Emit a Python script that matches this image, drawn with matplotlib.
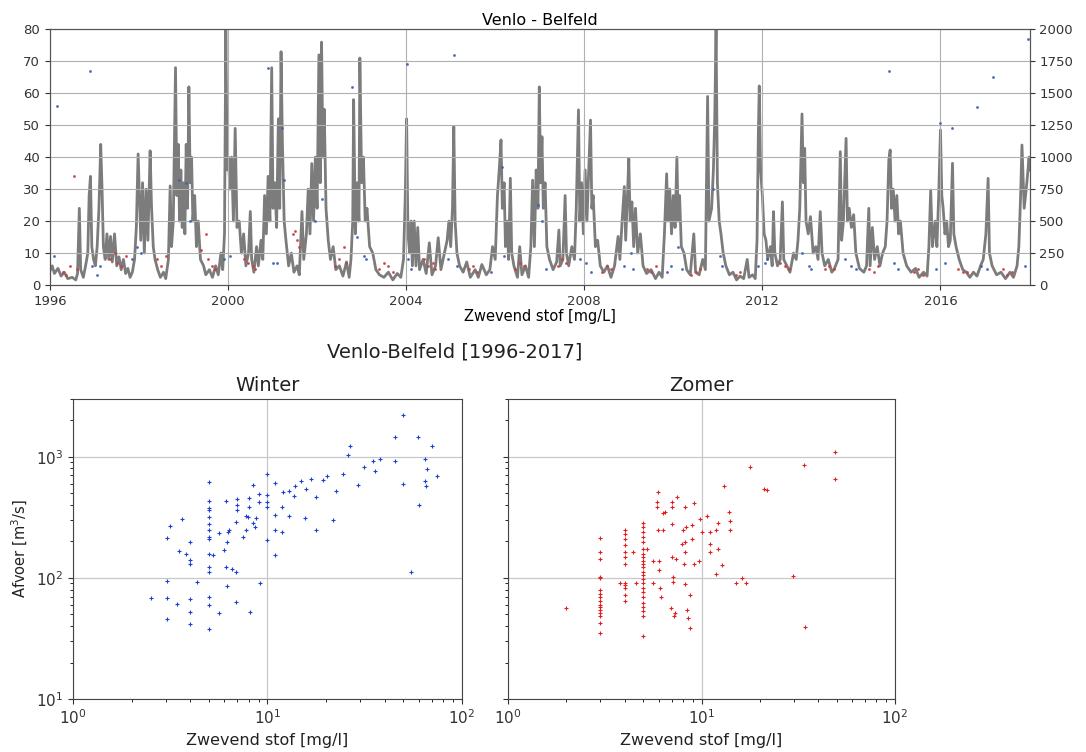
import numpy as np
import matplotlib
matplotlib.use("Agg")
import matplotlib.pyplot as plt

# ---------------- data: top panel (Venlo - Belfeld time series) ----------------
# discharge [m3/s] read at peaks/troughs (decimal years)
q_years = [
1996.00,1996.05,1996.10,1996.18,1996.25,1996.32,1996.40,1996.50,1996.58,1996.62,1996.66,1996.69,1996.75,1996.80,1996.85,1996.88,
1996.91,1996.94,1996.98,1997.02,1997.06,1997.10,1997.14,1997.17,1997.20,1997.24,1997.28,1997.32,1997.36,1997.40,1997.45,1997.50,
1997.55,1997.60,1997.65,1997.70,1997.75,1997.80,1997.85,1997.90,1997.94,1997.98,1998.01,1998.04,1998.08,1998.12,1998.16,1998.20,
1998.25,1998.28,1998.32,1998.36,1998.42,1998.48,1998.55,1998.60,1998.66,1998.70,1998.73,1998.77,1998.80,1998.82,1998.85,1998.88,
1998.91,1998.94,1998.97,1999.00,1999.03,1999.06,1999.09,1999.12,1999.15,1999.18,1999.21,1999.25,1999.29,1999.33,1999.38,1999.45,
1999.50,1999.58,1999.65,1999.72,1999.78,1999.84,1999.88,1999.92,1999.95,1999.98,2000.01,2000.04,2000.08,2000.12,2000.16,2000.20,
2000.25,2000.30,2000.35,2000.40,2000.46,2000.50,2000.53,2000.58,2000.64,2000.68,2000.74,2000.78,2000.82,2000.86,2000.90,2000.94,
2000.98,2001.01,2001.05,2001.09,2001.13,2001.16,2001.19,2001.22,2001.26,2001.30,2001.36,2001.42,2001.48,2001.55,2001.60,2001.66,
2001.70,2001.76,2001.80,2001.84,2001.88,2001.92,2001.96,2002.00,2002.04,2002.07,2002.10,2002.13,2002.16,2002.20,2002.25,2002.30,
2002.36,2002.42,2002.50,2002.58,2002.66,2002.72,2002.76,2002.80,2002.82,2002.86,2002.90,2002.94,2002.96,2003.00,2003.04,2003.08,
2003.12,2003.18,2003.25,2003.32,2003.40,2003.50,2003.60,2003.70,2003.80,2003.88,2003.94,2003.98,2004.01,2004.04,2004.08,2004.11,
2004.14,2004.18,2004.22,2004.26,2004.30,2004.38,2004.45,2004.52,2004.58,2004.66,2004.72,2004.78,2004.86,2004.92,2004.96,2005.00,
2005.04,2005.07,2005.10,2005.14,2005.20,2005.28,2005.36,2005.44,2005.55,2005.62,2005.70,2005.80,2005.88,2005.94,2006.00,2006.05,
2006.09,2006.13,2006.16,2006.20,2006.23,2006.27,2006.30,2006.34,2006.37,2006.42,2006.50,2006.55,2006.60,2006.68,2006.75,2006.80,
2006.84,2006.88,2006.92,2006.96,2006.99,2007.02,2007.05,2007.08,2007.12,2007.16,2007.22,2007.30,2007.38,2007.43,2007.46,2007.52,
2007.57,2007.60,2007.65,2007.72,2007.78,2007.82,2007.87,2007.90,2007.94,2007.98,2008.02,2008.06,2008.10,2008.14,2008.17,2008.20,
2008.25,2008.30,2008.36,2008.44,2008.52,2008.60,2008.68,2008.76,2008.80,2008.85,2008.90,2008.93,2008.97,2009.00,2009.03,2009.07,
2009.11,2009.15,2009.20,2009.26,2009.32,2009.40,2009.50,2009.60,2009.68,2009.75,2009.80,2009.85,2009.88,2009.92,2009.96,2010.00,
2010.04,2010.08,2010.11,2010.14,2010.18,2010.24,2010.30,2010.38,2010.46,2010.50,2010.58,2010.66,2010.72,2010.77,2010.80,2010.86,
2010.90,2010.93,2010.96,2010.99,2011.03,2011.07,2011.12,2011.18,2011.26,2011.34,2011.42,2011.50,2011.58,2011.66,2011.70,2011.78,
2011.84,2011.88,2011.91,2011.93,2011.96,2012.00,2012.04,2012.08,2012.12,2012.18,2012.22,2012.25,2012.28,2012.34,2012.40,2012.45,
2012.48,2012.55,2012.62,2012.70,2012.76,2012.80,2012.84,2012.89,2012.92,2012.95,2012.98,2013.03,2013.08,2013.14,2013.20,2013.25,
2013.30,2013.34,2013.40,2013.48,2013.56,2013.62,2013.70,2013.75,2013.78,2013.82,2013.88,2013.91,2013.95,2014.00,2014.05,2014.10,
2014.18,2014.28,2014.34,2014.39,2014.42,2014.47,2014.52,2014.58,2014.64,2014.70,2014.76,2014.80,2014.84,2014.87,2014.90,2014.94,
2014.98,2015.02,2015.06,2015.10,2015.16,2015.24,2015.34,2015.44,2015.52,2015.62,2015.70,2015.74,2015.78,2015.82,2015.88,2015.92,
2015.96,2016.00,2016.03,2016.06,2016.10,2016.14,2016.18,2016.22,2016.27,2016.30,2016.35,2016.42,2016.50,2016.58,2016.66,2016.74,
2016.82,2016.90,2016.96,2017.02,2017.07,2017.10,2017.16,2017.26,2017.36,2017.46,2017.56,2017.64,2017.72,2017.76,2017.80,2017.83,
2017.88,2017.94,2017.99,2018.00]
q_values = [
110,150,90,130,70,100,50,60,40,90,600,120,60,150,250,700,
850,300,200,150,300,600,1100,750,300,200,400,200,380,180,400,150,
220,120,200,90,130,60,100,200,450,1025,700,350,800,250,750,350,
1050,625,300,200,120,60,100,50,200,775,300,500,1200,1700,700,1100,
500,900,450,800,400,1100,600,1550,800,1000,500,700,300,500,200,150,
80,120,60,150,80,250,120,400,2000,900,1000,750,1000,500,1225,450,
500,250,400,150,250,575,200,100,300,150,350,200,700,400,850,500,
1700,600,800,450,1300,600,1825,1125,500,350,150,250,100,150,80,575,
200,400,750,400,950,500,1000,600,1800,800,1900,1000,1375,600,350,200,
300,120,150,70,180,60,200,500,1450,400,800,500,1775,800,1000,500,
600,300,250,120,80,60,100,40,90,60,200,700,1300,400,250,500,
150,500,150,450,120,200,90,330,80,150,370,120,250,350,500,300,
600,1240,500,250,150,100,180,60,120,60,160,80,120,300,200,700,
900,1135,600,800,300,500,200,835,250,150,60,300,80,150,60,300,
820,300,900,600,1550,800,1160,600,800,300,200,120,180,430,150,200,
700,250,150,300,200,600,1370,500,800,400,900,500,900,1290,600,700,
300,350,150,100,150,60,150,380,200,500,770,350,700,990,500,650,
300,600,250,400,150,90,120,50,100,60,400,870,500,750,400,700,
450,1000,500,700,300,250,120,80,400,100,80,200,120,1475,500,600,
900,1300,2000,800,500,400,250,150,80,100,40,70,50,200,60,80,
50,350,1186,1557,900,700,400,350,200,300,150,574,250,150,200,650,
200,150,100,250,200,350,600,1338,800,1069,500,400,535,250,300,200,
574,250,150,200,100,130,200,1043,350,500,1147,500,600,450,550,250,
130,100,150,600,150,450,200,300,150,250,300,500,978,1056,600,750,
500,700,400,500,250,150,100,130,60,100,70,300,743,300,500,300,
700,1213,700,600,400,500,300,350,952,400,300,200,120,100,60,100,
70,150,200,400,834,250,150,80,100,50,100,60,150,300,700,1095,
600,800,1000,900]

# suspended solids [mg/L] measurements: winter half-year (blue) and summer half-year (red)
ss_winter_years = [1996.08,1996.16,1996.90,1996.95,1997.05,1997.12,1997.85,1997.95,1998.05,1998.90,1999.05,1999.15,1999.90,
                   2000.05,2000.90,2001.00,2001.10,2001.21,2001.25,2001.95,2002.10,2002.78,2002.90,2003.05,2003.10,2004.01,
                   2004.05,2004.10,2004.95,2005.07,2005.15,2005.90,2006.15,2006.20,2006.95,2007.05,2007.15,2007.90,2008.05,
                   2008.15,2008.90,2009.05,2009.10,2009.85,2009.95,2010.10,2010.20,2010.90,2011.05,2011.10,2011.90,2012.05,
                   2012.10,2012.90,2013.05,2013.10,2013.85,2014.00,2014.10,2014.84,2014.95,2015.05,2015.90,2016.00,2016.10,
                   2016.27,2016.82,2016.90,2017.05,2017.18,2017.90,2017.96]
ss_winter_vals = [9,56,67,6,3,6,8,12,10,33,32,20,8,
                  9,68,7,7,49,33,20,27,62,15,9,8,69,
                  8,5,8,72,6,4,37,9,25,20,5,8,7,
                  4,6,10,5,4,6,12,5,30,9,6,6,7,
                  8,10,6,5,8,6,5,67,7,5,5,50.6,7,
                  49,55.6,6,5,65,6,77]
ss_summer_years = [1996.30,1996.35,1996.45,1996.54,1996.60,1997.35,1997.45,1997.50,1997.60,1997.70,1998.40,1998.50,1998.60,
                   1999.40,1999.50,1999.55,1999.65,1999.70,2000.35,2000.45,2000.55,2000.60,2001.45,2001.50,2001.55,2001.60,
                   2002.40,2002.50,2002.60,2002.65,2003.40,2003.50,2003.60,2003.70,2004.40,2004.50,2004.60,2004.65,2005.40,
                   2005.50,2005.60,2006.45,2006.55,2006.65,2007.40,2007.50,2007.60,2008.40,2008.50,2008.60,2009.40,2009.50,
                   2009.60,2010.40,2010.50,2010.60,2011.40,2011.50,2012.40,2012.50,2012.60,2013.40,2013.50,2013.60,2014.40,
                   2014.50,2014.60,2015.40,2015.50,2015.60,2016.40,2016.50,2016.60,2017.40,2017.50,2017.60]
ss_summer_vals = [4,3,6,34,5,8,10,7,6,9,8,6,9,
                  11,16,8,6,5,8,7,6,5,16,17,14,12,
                  6,8,12,7,5,7,6,4,8,6,7,5,5,
                  6,4,5,7,6,6,8,7,4,6,5,5,4,
                  6,3,4,5,3,4,7,6,5,5,6,5,5,
                  4,6,4,5,3,5,4,4,5,3,4]

# ---------------- data: scatter panels (Venlo-Belfeld 1996-2017) ----------------
winter_ss = [2.52,3.05,3.05,3.05,3.05,3.14,3.41,3.52,3.62,3.83,4.0,4.0,4.0,4.0,4.0,4.0,4.32,
             5,5,5,5,5,5,5,5,5,5,5.25,5,5,5,5,5,5.65,5.65,6.0,6.1,6.1,6.2,6.2,6.3,6.35,6.6,6.9,6.9,6.9,
             7.0,7.0,7.0,7.45,7.75,7.75,8.0,8.0,7.95,8.15,8.38,8.38,8.6,8.75,9.0,9.0,9.2,
             9.9,9.9,9.9,9.9,9.9,10.9,10.9,10.9,10.9,11.9,11.9,12.0,12.9,12.9,13.7,13.9,14.8,15.5,15.7,
             16.8,17.7,17.7,19.2,20.3,21.6,22.6,24.5,26.0,26.5,29.1,31.3,34.7,35.9,37.7,45.2,45.0,49.7,49.7,
             54.7,59.1,60.4,64.5,64.5,65.2,65.8,69.9,74.5]
winter_q = [67.6,94,68.5,46,215,269,60.8,167,307,157,199,140,131,67,52,41.6,91.6,
            615,435,380,360,317,279,247,217,210,158,154,123,112,69.8,59.6,37.6,236,51,169,435,123,198,85.5,240,248,118.6,112,63.5,288,
            449,396,360,217,247,327,455,383,317,52.6,585,285,262,314,421,493,91,
            721,485,421,383,204,604,332,247,154,383,240,516,525,327,472,578,627,314,542,
            655,463,250,640,698,298,519,721,1032,1231,589,827,915,767,957,927,1460,2214,596,
            112,1443,401,957,635,578,792,1216,689]

summer_ss = [2.0,
             3,3,3,3,3,3,3,3,3,3,3,3,3,3,3,3,
             4,4,4,4,4,4,4,4,4,4,4,4,3.79,4.4,4.58,
             5,5,5,5,5,5,5,5,5,5,5,5,5,5,5,5,5,5,5,5,5,5,5,
             5.2,5.6,5.6,5.87,5.87,5.98,5.98,6.05,6.05,6.1,6.15,6.3,6.35,6.47,
             7.0,7.0,7.0,7.0,7.1,7.15,6.95,7.3,7.2,7.44,7.4,7.9,8.05,8.2,8.2,8.2,8.15,8.2,8.3,8.4,8.55,8.7,8.7,
             8.9,8.9,9.1,9.15,9.7,9.8,10.0,10.7,11.0,11.0,11.0,11.9,11.9,12.2,12.2,12.8,13.0,13.9,14.1,14.1,
             15.0,16.2,17.0,17.7,20.9,21.7,29.8,33.7,34.4,49.2,49.2]
summer_q = [56,
            215,164,144,102,99,79,74,70,64,59.5,58,54.6,51,48,42,35,
            247,232,210,186,164,149,131,90,87,82,72,64,90,164,90,
            283,263,239,217,198,174,158,149,139,131,122,112,105,97,90,83,77,70,62,58,53,48,33,
            174,90,139,421,383,509,247,139,116,82,70,342,250,352,
            421,383,279,149,102,93,56,51,48,463,144,191,247,388,198,164,131,89,263,54.6,47,72,38.4,
            271,210,413,131,139,307,241,327,239,191,164,247,107,283,174,127,578,349,292,250,
            90,99,90,827,542,532,103,860,39,1099,651]

# ---------------- figure ----------------
plt.rcParams['font.family'] = ['DejaVu Sans']
fig = plt.figure(figsize=(10.86, 7.52), dpi=100)

grid_col = '#b0b0b0'
# top time series
ax = fig.add_axes([0.046, 0.621, 0.902, 0.340])
ax2 = ax.twinx()
ax2.plot(q_years, q_values, color='#7c7c7c', lw=2.0, zorder=2)
ax2.set_ylim(0, 2000)
ax2.set_yticks(np.arange(0, 2001, 250))
ax2.tick_params(labelsize=9.5, colors='#333333')
ax.set_zorder(ax2.get_zorder() + 1)
ax.patch.set_visible(False)
ax.plot(ss_summer_years, ss_summer_vals, ls='none', marker='.', ms=2.2, color='#c84040', alpha=0.8, zorder=3)
ax.plot(ss_winter_years, ss_winter_vals, ls='none', marker='.', ms=2.2, color='#4060b0', alpha=0.8, zorder=3)
ax.set_xlim(1996, 2018)
ax.set_ylim(0, 80)
ax.set_yticks(np.arange(0, 81, 10))
ax.set_xticks([1996, 2000, 2004, 2008, 2012, 2016])
ax.tick_params(labelsize=9.5, colors='#333333')
ax.grid(True, color=grid_col, lw=0.8)
ax.set_title('Venlo - Belfeld', fontsize=11.5, pad=3)
ax.set_xlabel('Zwevend stof [mg/L]', fontsize=10.5, labelpad=1)
for a in (ax, ax2):
    for s in a.spines.values():
        s.set_color('#555555')

# bottom scatter panels
fig.text(0.419, 0.532, 'Venlo-Belfeld [1996-2017]', ha='center', va='center', fontsize=14, color='#222222')

axw = fig.add_axes([0.0672, 0.0705, 0.3582, 0.399])
axs = fig.add_axes([0.4678, 0.0705, 0.3564, 0.399], sharey=axw)

for a, xs, ys, col, ttl in ((axw, winter_ss, winter_q, '#1f3fd0', 'Winter'),
                            (axs, summer_ss, summer_q, '#e02020', 'Zomer')):
    a.plot(xs, ys, ls='none', marker='+', ms=3, mew=0.8, color=col)
    a.set_xscale('log')
    a.set_yscale('log')
    a.set_xlim(1, 100)
    a.set_ylim(10, 3000)
    a.grid(True, which='major', color='#c8c8c8', lw=0.9)
    a.set_title(ttl, fontsize=14, color='#222222')
    a.set_xlabel('Zwevend stof [mg/l]', fontsize=11.5, color='#222222')
    a.tick_params(labelsize=11, colors='#333333')
    for s in a.spines.values():
        s.set_color('#444444')

axw.set_ylabel('Afvoer [m$^3$/s]', fontsize=10.5, color='#222222')
plt.setp(axs.get_yticklabels(), visible=False)

fig.savefig('out.png', dpi=100)
